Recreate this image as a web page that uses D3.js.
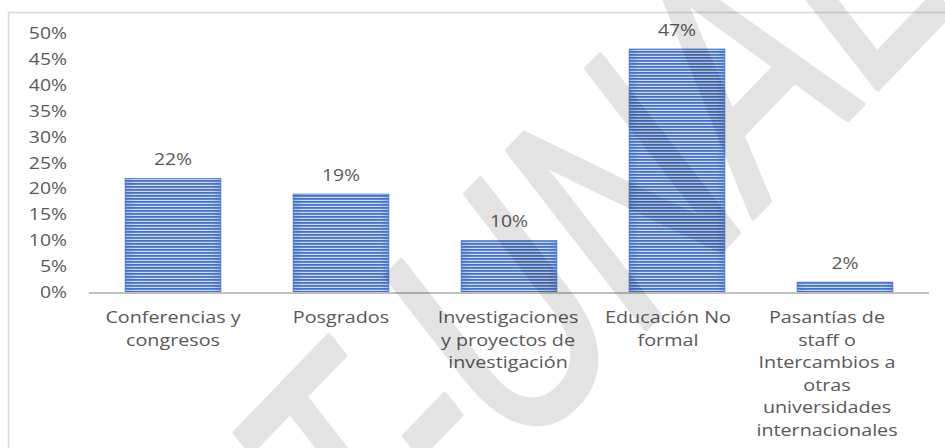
<!DOCTYPE html>
<html>
<head>
<meta charset="utf-8">
<script src="https://cdn.jsdelivr.net/npm/d3@7"></script>
<style>
  html, body { margin: 0; padding: 0; background: #ffffff; overflow: hidden; }
  svg { display: block; }
</style>
</head>
<body>
<svg id="chart" width="945" height="448"></svg>
<script>
// Categories and their wrapped axis labels
const categories = [
  "Conferencias y congresos",
  "Posgrados",
  "Investigaciones y proyectos de investigación",
  "Educación No formal",
  "Pasantías de staff o Intercambios a otras universidades internacionales"
];
const categoryLines = [
  ["Conferencias y", "congresos"],
  ["Posgrados"],
  ["Investigaciones", "y proyectos de", "investigación"],
  ["Educación No", "formal"],
  ["Pasantías de", "staff o", "Intercambios a", "otras", "universidades", "internacionales"]
];
// Share of responses (%)
const values = [22, 19, 10, 47, 2];
// Y axis ticks (%)
const yTicks = [0, 5, 10, 15, 20, 25, 30, 35, 40, 45, 50];
const watermarkText = "T-UNAL";

const W = 945, H = 448;
const svg = d3.select("#chart");
const FONT = "'Open Sans', 'Noto Sans', sans-serif";
const TEXT = "#595959";
const SX = 1.25; // horizontal stretch of the labels

const x = d3.scaleBand()
  .domain(categories)
  .range([89, 929])
  .paddingInner(0.43)
  .paddingOuter(0.215);
const y = d3.scaleLinear().domain([0, 50]).range([292.5, 33.5]);

// Striped bar fill
const defs = svg.append("defs");
const pat = defs.append("pattern")
  .attr("id", "hstripe")
  .attr("patternUnits", "userSpaceOnUse")
  .attr("width", 10).attr("height", 3);
pat.append("rect").attr("width", 10).attr("height", 3).attr("fill", "#d9e2f4");
pat.append("rect").attr("width", 10).attr("height", 1).attr("fill", "#4472c4");
pat.append("rect").attr("y", 1).attr("width", 10).attr("height", 1).attr("fill", "#6689cf");

const edge = defs.append("linearGradient").attr("id", "edgeShade")
  .attr("x1", 0).attr("x2", 1).attr("y1", 0).attr("y2", 0);
edge.append("stop").attr("offset", 0).attr("stop-color", "#4472c4").attr("stop-opacity", 0.4);
edge.append("stop").attr("offset", 0.1).attr("stop-color", "#4472c4").attr("stop-opacity", 0.08);
edge.append("stop").attr("offset", 0.9).attr("stop-color", "#4472c4").attr("stop-opacity", 0.08);
edge.append("stop").attr("offset", 1).attr("stop-color", "#4472c4").attr("stop-opacity", 0.4);

// Chart frame
svg.append("rect")
  .attr("x", 8.5).attr("y", 12.5)
  .attr("width", W + 20).attr("height", H + 20)
  .attr("fill", "none")
  .attr("stroke", "#d9d9d9")
  .attr("stroke-width", 1.5);

// Bars
const bars = svg.append("g");
categories.forEach((c, i) => {
  const bx = x(c), bw = x.bandwidth();
  const by = y(values[i]), bh = y(0) - y(values[i]);
  bars.append("rect").attr("x", bx).attr("y", by).attr("width", bw).attr("height", bh)
    .attr("fill", "url(#hstripe)");
  bars.append("rect").attr("x", bx).attr("y", by).attr("width", bw).attr("height", bh)
    .attr("fill", "url(#edgeShade)")
    .attr("stroke", "#4a76c6").attr("stroke-width", 0.8);
});

// Baseline
svg.append("line")
  .attr("x1", 89).attr("x2", 929)
  .attr("y1", y(0) + 0.5).attr("y2", y(0) + 0.5)
  .attr("stroke", "#bfbfbf").attr("stroke-width", 2.2);

// Stretched text helper
function label(g, tx, ty, str, anchor, size) {
  return g.append("text")
    .attr("transform", `translate(${tx},${ty}) scale(${SX},1)`)
    .attr("text-anchor", anchor)
    .attr("font-family", FONT)
    .attr("font-size", size)
    .attr("fill", TEXT)
    .text(str);
}

// Y axis labels
const yAxisG = svg.append("g");
yTicks.forEach(t => label(yAxisG, 67, y(t) + 5.5, t + "%", "end", 15.5));

// Value labels
const valG = svg.append("g");
categories.forEach((c, i) => {
  label(valG, x(c) + x.bandwidth() / 2, y(values[i]) - 13.5, values[i] + "%", "middle", 15.5);
});

// Category labels
const catG = svg.append("g");
const nudge = [0, 0, -1, -9, -18];
categories.forEach((c, i) => {
  const cx = x(c) + x.bandwidth() / 2 + nudge[i];
  categoryLines[i].forEach((ln, j) => {
    label(catG, cx, 323 + j * 22.5, ln, "middle", 15.8);
  });
});

// Diagonal watermark (single composite layer so overlapping strokes don't double up)
svg.append("g")
  .attr("opacity", 0.105)
  .append("text")
  .attr("transform", "translate(378,606) rotate(-46) scale(1,1.35)")
  .attr("font-family", "'Liberation Sans', Arial, sans-serif")
  .attr("font-style", "italic")
  .attr("font-size", 240)
  .attr("fill", "#000")
  .attr("stroke", "#000")
  .attr("stroke-width", 4)
  .attr("stroke-linejoin", "round")
  .text(watermarkText);
</script>
</body>
</html>
